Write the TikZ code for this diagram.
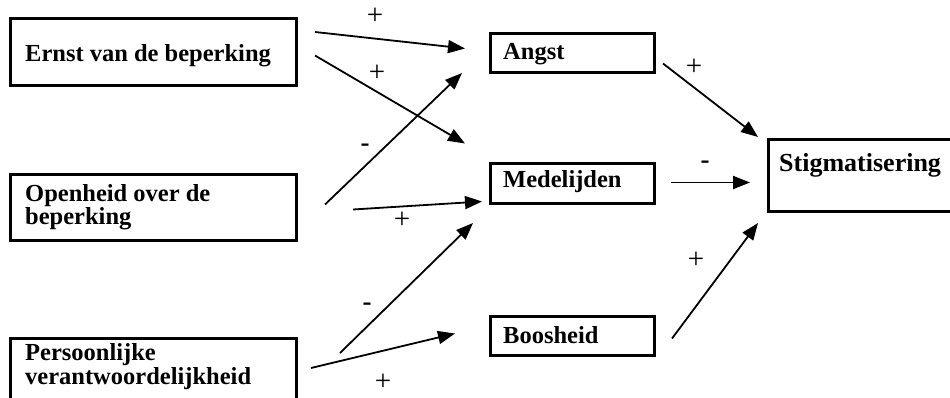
\documentclass[tikz,border=0pt]{standalone}
\usepackage{fontspec}
\setmainfont{Liberation Serif}
\usetikzlibrary{arrows.meta}
\begin{document}
\begin{tikzpicture}[x=1pt,y=-1pt,
  box/.style={draw=black,line width=3pt,rectangle,inner sep=0pt,anchor=north west},
  txt/.style={inner sep=0pt,anchor=base west,font=\fontsize{24.5}{23}\selectfont\bfseries,align=left},
  sgn/.style={inner sep=0pt,anchor=center,font=\fontsize{29}{29}\selectfont},
  msgn/.style={inner sep=0pt,anchor=center,font=\fontsize{27}{27}\selectfont\bfseries},
  arr/.style={line width=1.8pt,-{Triangle[length=17pt,width=13pt]}}]
\useasboundingbox (0,0) rectangle (950,398);
\clip (0,0) rectangle (950,398);
\fill[white] (0,0) rectangle (950,398);
% boxes
\node[box,minimum width=286pt,minimum height=67pt] (ernst) at (9,17) {};
\node[box,minimum width=286pt,minimum height=66pt] (open) at (9,173) {};
\node[box,minimum width=286pt,minimum height=75pt] (pers) at (9,337) {};
\node[box,minimum width=164pt,minimum height=39pt] (angst) at (489,32) {};
\node[box,minimum width=164pt,minimum height=40pt] (medel) at (489,162) {};
\node[box,minimum width=164pt,minimum height=39pt] (boos) at (489,315) {};
\node[box,minimum width=210pt,minimum height=72pt] (stig) at (767,138) {};
% texts
\node[txt] (ternst) at (25,62) {Ernst van de beperking};
\node[txt] (topen) at (25,225) {Openheid over de\\beperking};
\node[txt,font=\fontsize{24.5}{21}\selectfont\bfseries] (tpers) at (25,384) {Persoonlijke\\verantwoordelijkheid};
\node[txt] (tangst) at (503,60) {Angst};
\node[txt] (tmedel) at (503,188) {Medelijden};
\node[txt] (tboos) at (503,343) {Boosheid};
\node[txt,font=\fontsize{26}{26}\selectfont\bfseries] (tstig) at (779,172) {Stigmatisering};
% arrows
\draw[arr] ([shift={(17,15)}]ernst.north east) -- ([shift={(-24,-4.5)}]angst.west);
\draw[arr] ([shift={(17,3.5)}]ernst.east) -- ([shift={(-24,-40)}]medel.west);
\draw[arr] ([shift={(27,-3)}]open.east) -- ([shift={(-27,-1)}]angst.south west);
\draw[arr] ([shift={(55,2)}]open.east) -- ([shift={(-7,18)}]medel.west);
\draw[arr] ([shift={(42,16)}]pers.north east) -- ([shift={(-16,18)}]medel.south west);
\draw[arr] ([shift={(13,31)}]pers.north east) -- ([shift={(-34,-2.5)}]boos.west);
\draw[arr] ([shift={(7,10.5)}]angst.east) -- ([shift={(-9,-1)}]stig.north west);
\draw[arr] ([shift={(15,-1)}]medel.east) -- ([shift={(-17,7)}]stig.west);
\draw[arr] ([shift={(16,2.5)}]boos.east) -- ([shift={(-9,10)}]stig.south west);
% signs
\node[sgn] (s1) at (375,16) {+};
\node[sgn] (s2) at (377,73) {+};
\node[msgn] (s3) at (365,148) {-};
\node[sgn] (s4) at (402,220) {+};
\node[msgn] (s5) at (367,307) {-};
\node[sgn] (s6) at (383,382) {+};
\node[sgn] (s7) at (694,67) {+};
\node[msgn] (s8) at (705,165) {-};
\node[sgn] (s9) at (696,260) {+};
\end{tikzpicture}
\end{document}
